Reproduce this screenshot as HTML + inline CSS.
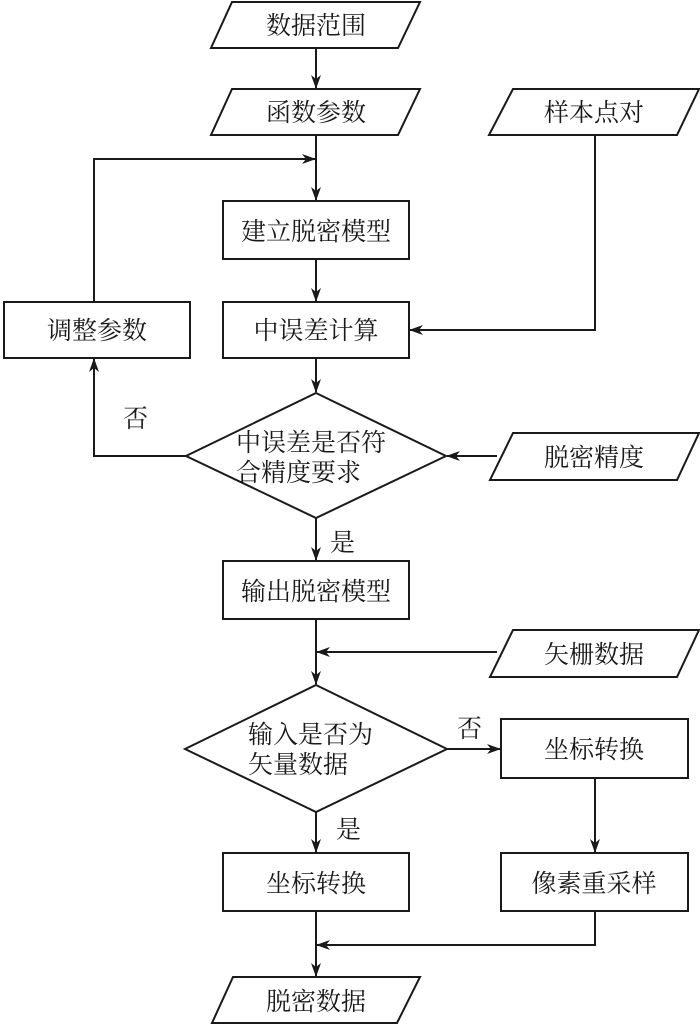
<!DOCTYPE html>
<html><head><meta charset="utf-8"><style>
html,body{margin:0;padding:0;background:#fff;}
svg{display:block;}
text{font-family:"Liberation Serif","Noto Serif CJK SC",serif;font-size:25px;fill:#1a1a1a;}
</style></head><body>
<svg width="700" height="1025" viewBox="0 0 700 1025" xmlns="http://www.w3.org/2000/svg">
<defs><marker id="a" markerWidth="14" markerHeight="10" refX="13" refY="5" orient="auto" markerUnits="userSpaceOnUse"><path d="M0,0 L14,5 L0,10 L4,5 Z" fill="#1a1a1a"/></marker></defs>
<g fill="none" stroke="#1a1a1a" stroke-width="2">
<polygon points="232,2 420,2 398,48 211,48"/>
<polygon points="232,89 420,89 398,135 211,135"/>
<polygon points="513,89 699,89 677,135 489,135"/>
<rect x="223" y="201" width="186" height="58"/>
<rect x="223" y="302" width="186" height="56"/>
<rect x="4" y="302" width="186" height="56"/>
<polygon points="316,393 446,456 316,518 186,456"/>
<polygon points="513,433 699,433 677,480 490,480"/>
<rect x="223" y="561" width="186" height="58"/>
<polygon points="513,630 699,630 677,677 490,677"/>
<polygon points="316,685 447,749 316,812 185,749"/>
<rect x="501" y="719" width="187" height="59"/>
<rect x="223" y="853" width="186" height="58"/>
<rect x="501" y="853" width="187" height="58"/>
<polygon points="233,977 420,977 397,1023 212,1023"/>
<line x1="316" y1="48" x2="316" y2="88" marker-end="url(#a)"/>
<line x1="316" y1="135" x2="316" y2="200" marker-end="url(#a)"/>
<polyline points="94,302 94,159 315,159" marker-end="url(#a)"/>
<line x1="316" y1="259" x2="316" y2="301" marker-end="url(#a)"/>
<polyline points="595,135 595,330 410,330" marker-end="url(#a)"/>
<line x1="316" y1="358" x2="316" y2="392" marker-end="url(#a)"/>
<polyline points="186,456 94,456 94,359" marker-end="url(#a)"/>
<line x1="497" y1="456" x2="447" y2="456" marker-end="url(#a)"/>
<line x1="316" y1="518" x2="316" y2="560" marker-end="url(#a)"/>
<line x1="316" y1="619" x2="316" y2="684" marker-end="url(#a)"/>
<line x1="497" y1="652" x2="317" y2="652" marker-end="url(#a)"/>
<line x1="447" y1="749" x2="500" y2="749" marker-end="url(#a)"/>
<line x1="595" y1="778" x2="595" y2="852" marker-end="url(#a)"/>
<line x1="316" y1="812" x2="316" y2="852" marker-end="url(#a)"/>
<polyline points="595,911 595,945 317,945" marker-end="url(#a)"/>
<line x1="316" y1="911" x2="316" y2="976" marker-end="url(#a)"/>
</g>
<g text-anchor="middle">
<text x="316" y="34">数据范围</text>
<text x="316" y="121">函数参数</text>
<text x="594" y="121">样本点对</text>
<text x="316" y="240">建立脱密模型</text>
<text x="316" y="339">中误差计算</text>
<text x="97" y="339">调整参数</text>
<text x="594" y="466">脱密精度</text>
<text x="316" y="600">输出脱密模型</text>
<text x="594" y="663">矢栅数据</text>
<text x="594" y="758">坐标转换</text>
<text x="316" y="892">坐标转换</text>
<text x="594" y="892">像素重采样</text>
<text x="316" y="1010">脱密数据</text>
</g>
<text x="236" y="451">中误差是否符</text>
<text x="236" y="481">合精度要求</text>
<text x="248" y="743">输入是否为</text>
<text x="248" y="773">矢量数据</text>
<text x="123" y="427">否</text>
<text x="330" y="551">是</text>
<text x="457" y="737">否</text>
<text x="336" y="838">是</text>
</svg>
</body></html>
